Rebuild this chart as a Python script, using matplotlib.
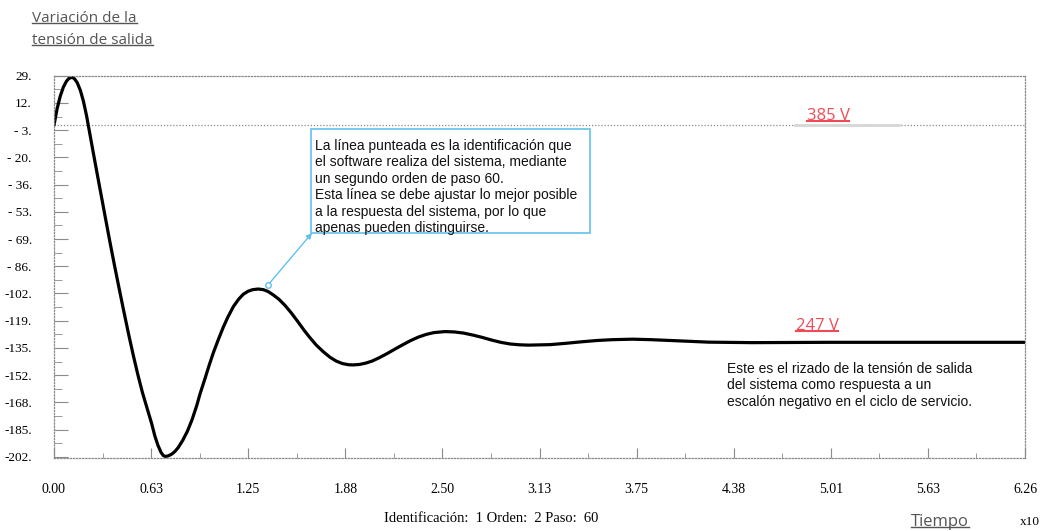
import numpy as np
import matplotlib
matplotlib.use("Agg")
import matplotlib.pyplot as plt
from matplotlib.lines import Line2D
from matplotlib.patches import Rectangle

# respuesta de la tension de salida
tiempo = [0.00, 0.02, 0.04, 0.06, 0.08, 0.095, 0.114, 0.13, 0.15, 0.17, 0.19, 0.21,
          0.221, 0.25, 0.28, 0.31, 0.34, 0.36, 0.39, 0.42, 0.45, 0.48, 0.51, 0.54,
          0.57, 0.60, 0.63, 0.65, 0.67, 0.69, 0.705, 0.72, 0.74, 0.76, 0.78, 0.80,
          0.83, 0.86, 0.89, 0.92, 0.941, 0.974, 1.00, 1.027, 1.06, 1.092, 1.12, 1.156,
          1.19, 1.22, 1.25, 1.28, 1.317, 1.35, 1.38, 1.414, 1.45, 1.49, 1.53, 1.57,
          1.61, 1.65, 1.69, 1.736, 1.78, 1.82, 1.86, 1.90, 1.93, 1.97, 2.01, 2.05,
          2.10, 2.15, 2.20, 2.25, 2.30, 2.35, 2.40, 2.45, 2.52, 2.58, 2.64, 2.70,
          2.76, 2.82, 2.88, 2.94, 3.00, 3.06, 3.11, 3.20, 3.30, 3.40, 3.50, 3.60,
          3.73, 3.85, 4.00, 4.22, 4.50, 5.00, 5.50, 6.00, 6.26]
tension = [-1, 9, 16.5, 22, 25.6, 27.3, 28, 27.4, 24.7, 20.1, 13.4, 4.7,
           -1, -16, -31.3, -46.4, -61.5, -71.5, -86, -100, -113.8, -127.2, -140, -152,
           -163, -172.5, -182, -189.3, -195, -199.3, -201.3, -201.8, -201.3, -200.3, -198.7, -196.5,
           -192, -186.5, -179.5, -171, -164, -154.4, -146.6, -139, -130.8, -123.3, -117.5, -111,
           -106.5, -103.5, -101.7, -100.7, -100.3, -100.7, -101.8, -103.9, -106.5, -110.3, -114.8, -119.8,
           -125, -129.8, -134.2, -138.3, -141.7, -144, -145.5, -146.2, -146.3, -146, -145.2, -144,
           -141.8, -139.3, -136.6, -134, -131.5, -129.4, -127.8, -126.7, -126.1, -126.3, -127, -128.2,
           -129.6, -131.2, -132.6, -133.6, -134.1, -134.3, -134.2, -134, -133.2, -132.3, -131.5, -131,
           -130.7, -131, -131.6, -132.5, -132.8, -132.6, -132.6, -132.6, -132.6]

y_etiquetas = ["29.", "12.", "- 3.", "- 20.", "- 36.", "- 53.", "- 69.", "- 86.",
               "-102.", "-119.", "-135.", "-152.", "-168.", "-185.", "-202."]
x_etiquetas = ["0.00", "0.63", "1.25", "1.88", "2.50", "3.13", "3.75",
               "4.38", "5.01", "5.63", "6.26"]
nivel_inicial = -1
t_max = 6.26

W, H = 1051, 531
fig = plt.figure(figsize=(W / 100, H / 100), dpi=100)
ax = fig.add_axes([54 / W, 1 - 458.3 / H, 971 / W, 382.6 / H])

gris = "#8a8a8a"
azul = "#62c0ec"
rojo = "#ee4b57"
serif = "Liberation Serif"
sans = "Liberation Sans"

ax.set_xlim(0, t_max)
ax.set_ylim(-202.9, 29)

# lineas punteadas de referencia
ax.axhline(nivel_inicial, color=gris, ls=(0, (1, 1.5)), lw=0.9)
ax.plot([4.78, 5.45], [nivel_inicial, nivel_inicial], color="#d6d6d6", lw=2)

ax.plot(tiempo, tension, color="black", lw=2.3, solid_capstyle="round", solid_joinstyle="round")

for s in ax.spines.values():
    s.set_color(gris)
    s.set_linestyle((0, (1, 1.5)))
    s.set_linewidth(0.9)

# ticks
y_pos = np.linspace(29, -202, len(y_etiquetas))
ax.set_yticks(y_pos)
ax.set_yticklabels(y_etiquetas, fontfamily=serif, fontsize=9.5)
ax.set_yticks((y_pos[:-1] + y_pos[1:]) / 2, minor=True)
x_pos = np.linspace(0, t_max, len(x_etiquetas))
ax.set_xticks(x_pos)
ax.set_xticklabels(x_etiquetas, fontfamily=serif, fontsize=10)
ax.set_xticks((x_pos[:-1] + x_pos[1:]) / 2, minor=True)
ax.tick_params(axis="y", which="major", direction="in", length=10, color=gris, pad=16)
ax.tick_params(axis="y", which="minor", direction="in", length=6, color=gris)
ax.tick_params(axis="x", which="major", direction="in", length=7, color=gris, pad=18)
ax.tick_params(axis="x", which="minor", direction="in", length=3.5, color=gris)

# cuadro de anotacion
fig.add_artist(Rectangle((311 / W, 1 - 233 / H), 279 / W, 104 / H, transform=fig.transFigure,
                         fill=False, ec=azul, lw=1.2))
fig.text(315 / W, 1 - 139 / H,
         "La línea punteada es la identificación que\n"
         "el software realiza del sistema, mediante\n"
         "un segundo orden de paso 60.\n"
         "Esta línea se debe ajustar lo mejor posible\n"
         "a la respuesta del sistema, por lo que\n"
         "apenas pueden distinguirse.",
         fontfamily=sans, fontsize=10, va="top", ha="left", linespacing=1.22, color="#111111")
ax.annotate("", xy=(312 / W, 1 - 233 / H), xycoords="figure fraction",
            xytext=(1.38, -97.8), textcoords="data",
            arrowprops=dict(arrowstyle="-|>", color=azul, lw=1, mutation_scale=8,
                            shrinkA=2, shrinkB=0))
ax.plot([1.38], [-97.8], marker="o", ms=4, mfc="white", mec=azul, mew=1)

fig.text(727 / W, 1 - 362 / H,
         "Este es el rizado de la tensión de salida\n"
         "del sistema como respuesta a un\n"
         "escalón negativo en el ciclo de servicio.",
         fontfamily=sans, fontsize=10, va="top", ha="left", linespacing=1.22, color="#111111")

# textos con subrayado
textos_sub = []
textos_sub.append((fig.text(32 / W, 1 - 18 / H, "Variación de la", fontfamily="Open Sans",
                            fontsize=11, color="#555555", va="center"), "#555555", 1))
textos_sub.append((fig.text(32 / W, 1 - 40 / H, "tensión de salida", fontfamily="Open Sans",
                            fontsize=11, color="#555555", va="center"), "#555555", 1))
textos_sub.append((fig.text(828 / W, 1 - 116 / H, "385 V", fontfamily="Open Sans",
                            fontsize=12, color=rojo, va="center", ha="center"), rojo, 1.5))
textos_sub.append((fig.text(817 / W, 1 - 326 / H, "247 V", fontfamily="Open Sans",
                            fontsize=12, color=rojo, va="center", ha="center"), rojo, 1.5))
textos_sub.append((fig.text(940 / W, 1 - 522 / H, "Tiempo", fontfamily="Open Sans",
                            fontsize=12, color="#555555", va="center", ha="center"), "#555555", 1))

fig.text(491 / W, 1 - 519 / H, "Identificación:  1 Orden:  2 Paso:  60", fontfamily=serif,
         fontsize=10.5, ha="center", va="center")
fig.text(1030 / W, 1 - 522 / H, "x10", fontfamily=serif, fontsize=9.5, ha="center", va="center")

fig.canvas.draw()
renderer = fig.canvas.get_renderer()
for t, c, lw in textos_sub:
    bb = t.get_window_extent(renderer)
    y = (bb.y0 + 3) / H
    fig.add_artist(Line2D([bb.x0 / W, bb.x1 / W], [y, y], color=c, lw=lw,
                          transform=fig.transFigure))

fig.savefig("out.png", dpi=100)
